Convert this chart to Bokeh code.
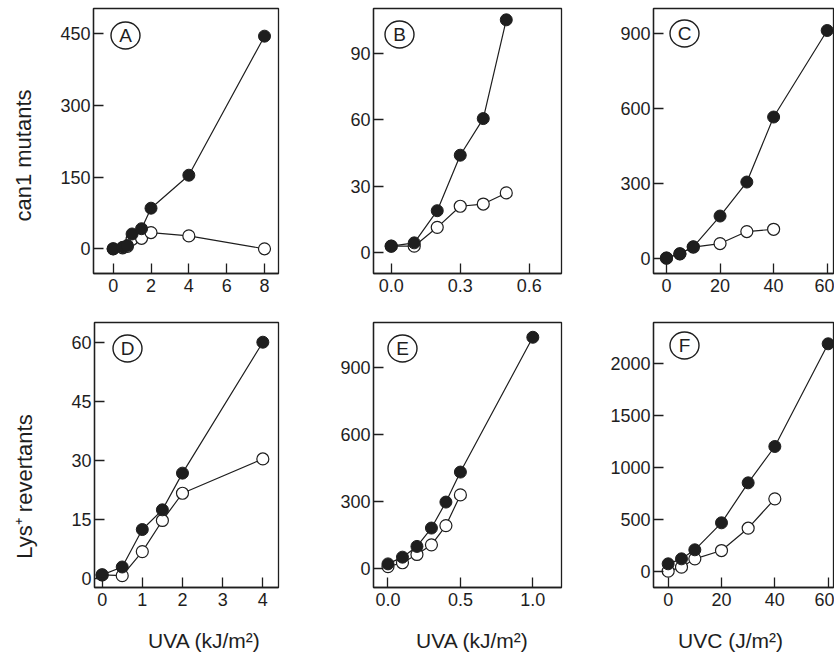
import math
from bokeh.plotting import figure
from bokeh.layouts import column, row
from bokeh.models import Range1d, FixedTicker
from bokeh.core.properties import value
from bokeh.embed import file_html
from bokeh.resources import INLINE

# ---------------- data ----------------
a_dose = [0, 0.5, 0.75, 1, 1.5, 2, 4, 8]
a_filled = [0, 3, 7, 31, 42, 85, 154, 445]
a_open = [0, 2, 5, 20, 22, 34, 27, 0]

b_dose = [0, 0.1, 0.2, 0.3, 0.4, 0.5]
b_filled = [3, 4.5, 19, 44, 60.5, 105]
b_open = [3, 3, 11.5, 21, 22, 27]

c_dose_filled = [0, 5, 10, 20, 30, 40, 60]
c_filled = [3, 20, 48, 171, 307, 567, 913]
c_dose_open = [0, 5, 10, 20, 30, 40]
c_open = [3, 20, 47, 61, 109, 118]

d_dose = [0, 0.5, 1, 1.5, 2, 4]
d_filled = [1, 3, 12.5, 17.5, 26.8, 60]
d_open = [1, 0.8, 6.9, 14.8, 21.7, 30.4]

e_dose_filled = [0, 0.1, 0.2, 0.3, 0.4, 0.5, 1.0]
e_filled = [22, 52, 100, 182, 298, 432, 1034]
e_dose_open = [0, 0.1, 0.2, 0.3, 0.4, 0.5]
e_open = [10, 27, 64, 107, 193, 330]

f_dose_filled = [0, 5, 10, 20, 30, 40, 60]
f_filled = [74, 122, 209, 469, 854, 1204, 2193]
f_dose_open = [0, 5, 10, 20, 30, 40]
f_open = [3, 42, 122, 202, 417, 700]

a_xticks = [0, 2, 4, 6, 8]
a_xlabels = ["0", "2", "4", "6", "8"]
a_yticks = [0, 150, 300, 450]
b_xticks = [0, 0.3, 0.6]
b_xlabels = ["0.0", "0.3", "0.6"]
b_yticks = [0, 30, 60, 90]
c_xticks = [0, 20, 40, 60]
c_xlabels = ["0", "20", "40", "60"]
c_yticks = [0, 300, 600, 900]
d_xticks = [0, 1, 2, 3, 4]
d_xlabels = ["0", "1", "2", "3", "4"]
d_yticks = [0, 15, 30, 45, 60]
e_xticks = [0, 0.5, 1.0]
e_xlabels = ["0.0", "0.5", "1.0"]
e_yticks = [0, 300, 600, 900]
f_xticks = [0, 20, 40, 60]
f_xlabels = ["0", "20", "40", "60"]
f_yticks = [0, 500, 1000, 1500, 2000]

panel_letters = ["A", "B", "C", "D", "E", "F"]
row_titles = ["can1 mutants", "Lys\u207a revertants"]
col_titles = ["UVA (kJ/m\u00b2)", "UVA (kJ/m\u00b2)", "UVC (J/m\u00b2)"]

# ---------------- styling ----------------
FONT = "Liberation Sans"
INK = "#1e1e1e"
TICK_SIZE = "18px"


def make_panel(letter, fxs, fys, oxs, oys, xticks, xlabels, yticks, xr, yr,
               fw, fh, bl, br, bt, bb, letter_off):
    p = figure(frame_width=fw, frame_height=fh,
               x_range=Range1d(*xr), y_range=Range1d(*yr),
               output_backend="svg", toolbar_location=None,
               min_border_left=bl, min_border_right=br,
               min_border_top=bt, min_border_bottom=bb,
               background_fill_color="white", border_fill_color="white",
               outline_line_color=INK, outline_line_width=1.3)
    p.grid.visible = False
    for ax in (p.xaxis[0], p.yaxis[0]):
        ax.major_tick_in = 10
        ax.major_tick_out = 0
        ax.minor_tick_line_color = None
        ax.axis_line_color = INK
        ax.axis_line_width = 1.3
        ax.major_tick_line_color = INK
        ax.major_tick_line_width = 1.3
        ax.major_label_text_font = FONT
        ax.major_label_text_font_size = TICK_SIZE
        ax.major_label_text_color = INK
    p.xaxis[0].major_label_standoff = 5
    p.yaxis[0].major_label_standoff = 3
    p.xaxis[0].ticker = FixedTicker(ticks=xticks)
    p.xaxis[0].major_label_overrides = {t: s for t, s in zip(xticks, xlabels)}
    p.yaxis[0].ticker = FixedTicker(ticks=yticks)

    p.line(oxs, oys, line_color=INK, line_width=1.2)
    p.line(fxs, fys, line_color=INK, line_width=1.2)
    p.scatter(oxs, oys, marker="circle", size=12, fill_color="white",
              line_color=INK, line_width=1.2)
    p.scatter(fxs, fys, marker="circle", size=12, fill_color=INK,
              line_color=INK, line_width=1.0)

    # panel letter in a circle, positioned relative to the frame's top-left corner
    lx = xr[0] + letter_off[0] / fw * (xr[1] - xr[0])
    ly = yr[1] - letter_off[1] / fh * (yr[1] - yr[0])
    p.ellipse(x=[lx], y=[ly], width=29, height=27,
              width_units="screen", height_units="screen",
              fill_color=None, line_color=INK, line_width=1.4)
    p.text(x=[lx], y=[ly], text=[letter], text_align="center",
           text_baseline="middle", text_font=value(FONT),
           text_font_size="19px", text_color=INK)
    return p


def text_strip(w, h, xs, ys, texts, angle, size):
    """A bare figure (no axes) whose data units are pixels, used for titles."""
    s = figure(frame_width=w, frame_height=h, x_range=Range1d(0, w),
               y_range=Range1d(0, h), x_axis_location=None, y_axis_location=None,
               output_backend="svg", toolbar_location=None, min_border=0,
               outline_line_color=None, background_fill_color="white",
               border_fill_color="white")
    s.grid.visible = False
    s.text(x=xs, y=ys, text=texts, angle=angle, text_align="center",
           text_baseline="middle", text_font=value(FONT),
           text_font_size=size, text_color=INK)
    return s


specs = [
    dict(fx=(a_dose, a_filled), ox=(a_dose, a_open),
         xticks=a_xticks, xlabels=a_xlabels, yticks=a_yticks,
         xr=(-1.04, 8.74), yr=(-51.7, 502.9), fw=185, fh=265, bl=48, br=22, bt=8, bb=30,
         letter_off=(32, 27)),
    dict(fx=(b_dose, b_filled), ox=(b_dose, b_open),
         xticks=b_xticks, xlabels=b_xlabels, yticks=b_yticks,
         xr=(-0.077, 0.740), yr=(-9.3, 110.1), fw=188, fh=265, bl=73, br=22, bt=8, bb=30,
         letter_off=(26, 26)),
    dict(fx=(c_dose_filled, c_filled), ox=(c_dose_open, c_open),
         xticks=c_xticks, xlabels=c_xlabels, yticks=c_yticks,
         xr=(-4.85, 62.36), yr=(-58.8, 1001), fw=180, fh=265, bl=70, br=1, bt=8, bb=30,
         letter_off=(31, 25)),
    dict(fx=(d_dose, d_filled), ox=(d_dose, d_open),
         xticks=d_xticks, xlabels=d_xlabels, yticks=d_yticks,
         xr=(-0.19, 4.39), yr=(-2.2, 65.0), fw=184, fh=265, bl=49, br=22, bt=19, bb=30,
         letter_off=(33, 26)),
    dict(fx=(e_dose_filled, e_filled), ox=(e_dose_open, e_open),
         xticks=e_xticks, xlabels=e_xlabels, yticks=e_yticks,
         xr=(-0.10, 1.198), yr=(-83.5, 1100), fw=188, fh=265, bl=73, br=22, bt=19, bb=30,
         letter_off=(29, 26)),
    dict(fx=(f_dose_filled, f_filled), ox=(f_dose_open, f_open),
         xticks=f_xticks, xlabels=f_xlabels, yticks=f_yticks,
         xr=(-5.5, 62.0), yr=(-154, 2398), fw=180, fh=265, bl=70, br=1, bt=19, bb=30,
         letter_off=(31, 23)),
]

panels = []
for letter, s in zip(panel_letters, specs):
    panels.append(make_panel(letter, s["fx"][0], s["fx"][1], s["ox"][0], s["ox"][1],
                             s["xticks"], s["xlabels"], s["yticks"], s["xr"], s["yr"],
                             s["fw"], s["fh"], s["bl"], s["br"], s["bt"], s["bb"],
                             s["letter_off"]))

# row titles: narrow strips left of each row (pixel units, y measured upward)
top_h = 8 + 265 + 30
bot_h = 19 + 265 + 30
left_top = text_strip(45, top_h, [23], [top_h - 147], [row_titles[0]], math.pi / 2, "22px")
left_bot = text_strip(45, bot_h, [24], [bot_h - 164], [row_titles[1]], math.pi / 2, "22px")

# column titles: a strip under the bottom row
strip_h = 40
bottom = text_strip(834, strip_h, [204, 472, 730], [strip_h - 23] * 3, col_titles, 0, "21px")

layout = column(row(left_top, *panels[:3]), row(left_bot, *panels[3:]), bottom)

with open("out.html", "w") as fh:
    fh.write(file_html(layout, INLINE))
